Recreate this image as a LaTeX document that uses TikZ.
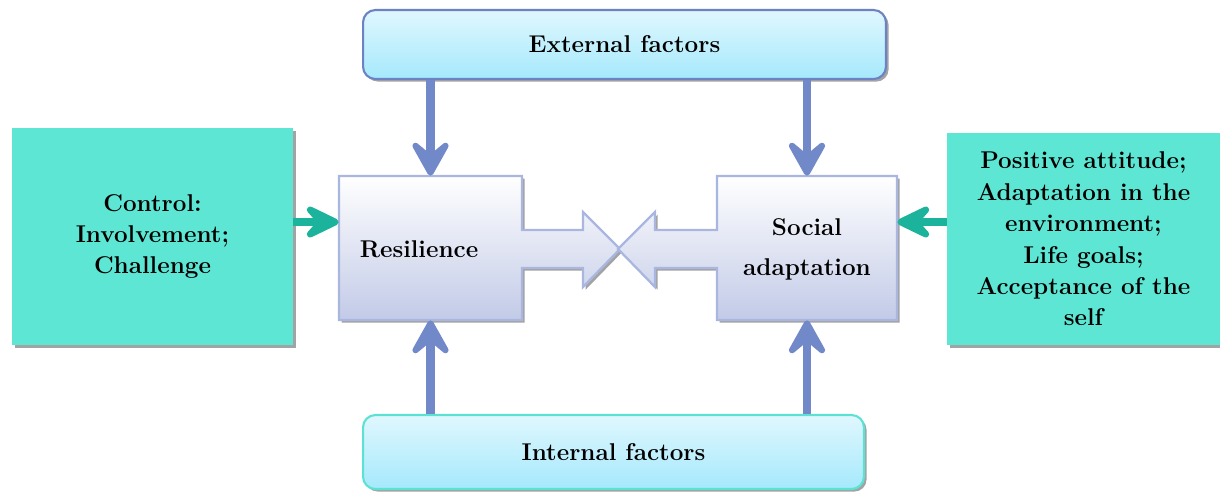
\documentclass[tikz,border=0pt]{standalone}
\usepackage{xcolor}
\usepackage{tikz}
\usetikzlibrary{arrows.meta,shadows}
\definecolor{frameblue}{HTML}{6D82C5}
\definecolor{arrowblue}{HTML}{7289C9}
\definecolor{arrowgreen}{HTML}{1BB39B}
\definecolor{boxgreen}{HTML}{5EE6D4}
\definecolor{skytop}{HTML}{E0F7FE}
\definecolor{skybot}{HTML}{A5E9FC}
\definecolor{lavline}{HTML}{A9B7E0}
\definecolor{lavbot}{HTML}{C2CAE7}
\definecolor{turqline}{HTML}{5CE2D2}

\begin{document}
\begin{tikzpicture}[x=0.02cm, y=-0.02cm,
  font=\fontsize{13.8}{17.9}\selectfont\bfseries,
  shad/.style={drop shadow={shadow xshift=1.5pt, shadow yshift=-1.5pt, opacity=0.6, fill=black!60}},
  factor/.style={rounded corners=7pt, line width=1.2pt, top color=skytop, bottom color=skybot, shad},
  greenbox/.style={fill=boxgreen, align=center, shad},
  hidden/.style={inner sep=0pt},
  bluearrow/.style={draw=arrowblue, line width=5pt, -{Stealth[length=26pt, width=29pt, inset=12pt, round]}},
  greenarrow/.style={draw=arrowgreen, line width=4.5pt, -{Stealth[length=26pt, width=25pt, inset=11pt, round]}},
  blockarrow/.style={draw=lavline, line width=1.3pt, top color=white, bottom color=lavbot, shad}]
\useasboundingbox (0,0) rectangle (1220,491);

\path[blockarrow] (339,176) -- (522,176) -- (522,230) -- (583,230) -- (583,212) -- (620,249) -- (583,287) -- (583,268) -- (522,268) -- (522,320) -- (339,320) -- cycle;
\path[blockarrow] (897,176) -- (717,176) -- (717,230) -- (655,230) -- (655,212) -- (618,249) -- (655,287) -- (655,268) -- (717,268) -- (717,320) -- (897,320) -- cycle;

\node[hidden, minimum width=3.66cm, minimum height=2.88cm] (res) at (430.5,248) {};
\node[hidden, minimum width=3.6cm, minimum height=2.88cm] (soc) at (807,248) {};
\node (restext) at (419,249) {Resilience};
\node[align=center] (soctext) at (807,249) {Social\\[5pt]adaptation};

\node[factor, draw=frameblue, minimum width=10.46cm, minimum height=1.38cm] (ext) at (624.5,44.5) {External factors};
\node[factor, draw=turqline, minimum width=10.02cm, minimum height=1.48cm] (int) at (613.5,452) {Internal factors};

\node[greenbox, minimum width=5.62cm, minimum height=4.34cm] (ctrl) at (152.5,236.5) {Control:\\Involvement;\\Challenge};
\node[greenbox, minimum width=5.46cm, minimum height=4.24cm] (adapt) at (1083.5,239) {Positive attitude;\\Adaptation in the\\environment;\\Life goals;\\Acceptance of the\\self};

\draw[bluearrow] (ext.south -| res.north) -- (res.north);
\draw[bluearrow] (ext.south -| soc.north) -- (soc.north);
\draw[bluearrow] (int.north -| res.south) -- (res.south);
\draw[bluearrow] (int.north -| soc.south) -- (soc.south);

\draw[greenarrow] ([yshift=0.29cm]ctrl.east) -- ([yshift=0.29cm]ctrl.east -| res.west);
\draw[greenarrow] ([yshift=0.34cm]adapt.west) -- ([yshift=0.34cm]adapt.west -| soc.east);
\end{tikzpicture}
\end{document}
